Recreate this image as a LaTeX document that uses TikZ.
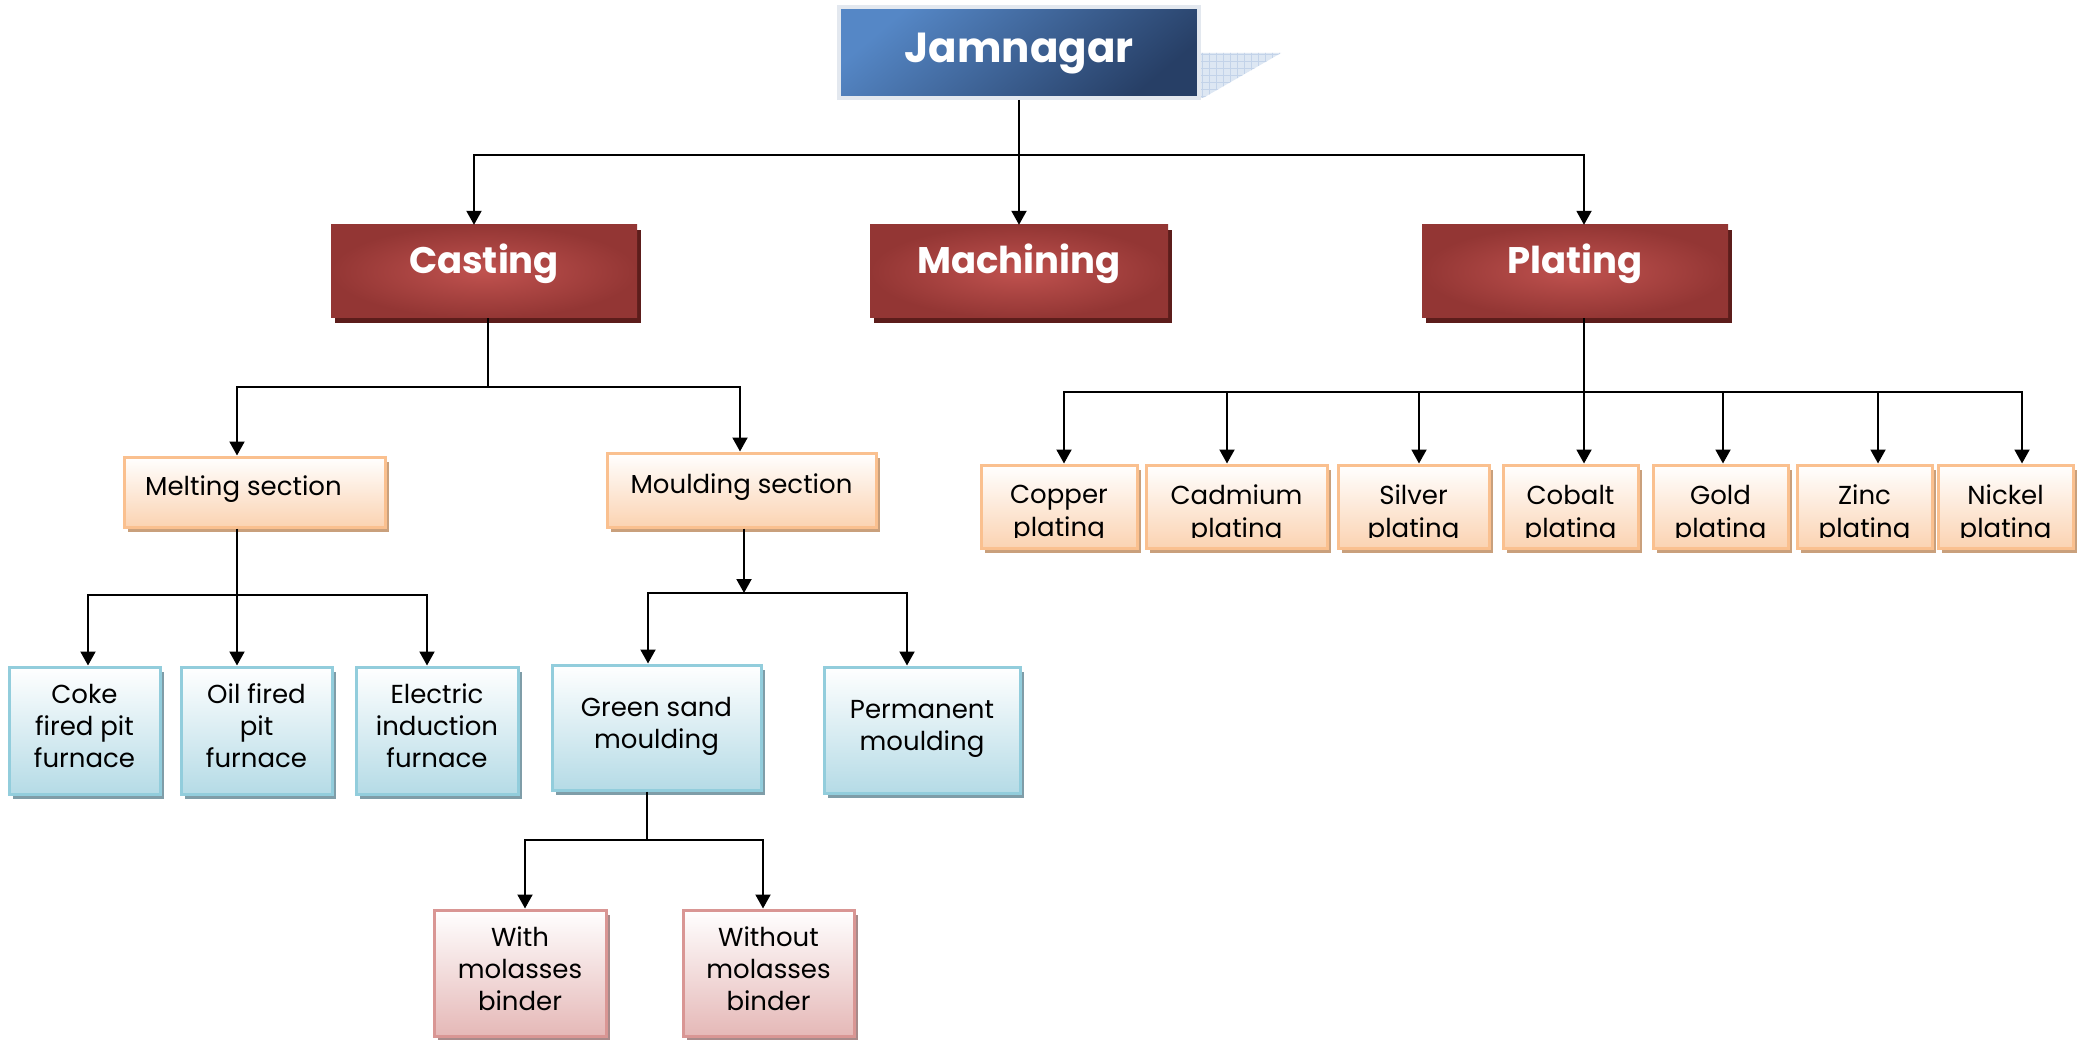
\documentclass[tikz,border=0pt]{standalone}
\usepackage{fontspec}
\setmainfont{Poppins}
\usetikzlibrary{arrows.meta,shadows,calc}

\definecolor{jLight}{HTML}{5587C6}
\definecolor{jDark}{HTML}{273F66}
\definecolor{jFrame}{HTML}{E3E8EF}
\definecolor{jPlate}{HTML}{DDE7F3}
\definecolor{jGrid}{HTML}{C3D3E9}
\definecolor{rInner}{HTML}{C0524F}
\definecolor{rOuter}{HTML}{933634}
\definecolor{rShadow}{HTML}{5C1D1B}
\definecolor{oBorder}{HTML}{FAC08F}
\definecolor{oFill}{HTML}{FBD3B2}
\definecolor{oShadow}{HTML}{C9A07C}
\definecolor{bBorder}{HTML}{92CDDC}
\definecolor{bFill}{HTML}{B5DBE6}
\definecolor{bShadow}{HTML}{7F9DA8}
\definecolor{pBorder}{HTML}{D99694}
\definecolor{pFill}{HTML}{E5B8B7}
\definecolor{pShadow}{HTML}{A88A8A}

\begin{document}
\begin{tikzpicture}[x=1pt, y=-1pt,
  every node/.style={inner sep=0pt},
  wire/.style={draw=black, line width=2pt},
  arr/.style={wire, -{Triangle[width=15pt,length=14pt]}},
  txt/.style={align=center, font=\fontsize{26}{32}\selectfont,
    execute at begin node=\strut, execute at end node=\strut},
  % text sitting a little lower / higher in its box
  txtlow/.style={txt, execute at begin node={\strut\rule{0pt}{30pt}}},
  txthigh/.style={txt, execute at end node={\strut\rule[-15.6pt]{0pt}{0pt}}},
  topbox/.style={rectangle, draw=jFrame, line width=4pt,
    top color=jLight, bottom color=jDark, shading angle=40,
    text=white, font=\fontsize{42}{50}\selectfont\bfseries,
    text height=33pt, text depth=13pt},
  redbox/.style={rectangle, minimum height=93, inner color=rInner, outer color=rOuter,
    text=white, font=\fontsize{37}{44}\selectfont\bfseries,
    text height=30pt, text depth=25pt,
    drop shadow={shadow xshift=4pt, shadow yshift=-5pt, opacity=1, fill=rShadow}},
  peachbox/.style={rectangle, draw=oBorder, line width=3pt, top color=white, bottom color=oFill,
    drop shadow={shadow xshift=4pt, shadow yshift=-5pt, opacity=1, fill=oShadow}},
  cyanbox/.style={rectangle, draw=bBorder, line width=3pt, top color=white, bottom color=bFill,
    drop shadow={shadow xshift=4pt, shadow yshift=-5pt, opacity=1, fill=bShadow}},
  pinkbox/.style={rectangle, draw=pBorder, line width=3pt, top color=white, bottom color=pFill,
    drop shadow={shadow xshift=4pt, shadow yshift=-5pt, opacity=1, fill=pShadow}}
]
\path[fill=white, use as bounding box] (0,0) rectangle (2084,1040);

% gridded plate behind the title box
\begin{scope}
  \clip (1199,53) -- (1281,53) -- (1203,98) -- (1199,98) -- cycle;
  \fill[jPlate] (1195,50) rectangle (1285,100);
  \foreach \gx in {1202,1209,...,1285} \draw[jGrid, line width=0.8pt] (\gx,50) -- (\gx,100);
  \foreach \gy in {54,61,...,100} \draw[jGrid, line width=0.8pt] (1195,\gy) -- (1285,\gy);
\end{scope}

% title and main branches
\node[topbox, minimum width=360, minimum height=91] (jam) at (1019,52.5) {Jamnagar};
\node[redbox, minimum width=306] (cast) at (484,271.5) {Casting};
\node[redbox, minimum width=298] (mach) at (1019,271.5) {Machining};
\node[redbox, minimum width=306] (plat) at (1575,271.5) {Plating};

% casting sections
\node[peachbox, txthigh, minimum width=261, minimum height=70] (melt) at (254.5,492) {Melting section\kern22pt};
\node[peachbox, txthigh, minimum width=269, minimum height=74] (mould) at (741.5,490) {Moulding section};

\node[cyanbox, txtlow, minimum width=151, minimum height=127] (coke) at (84.5,730.5) {Coke\\fired pit\\furnace};
\node[cyanbox, txtlow, minimum width=151, minimum height=127] (oil) at (256.5,730.5) {Oil fired\\pit\\furnace};
\node[cyanbox, txtlow, minimum width=162, minimum height=127] (elec) at (437,730.5) {Electric\\induction\\furnace};
\node[cyanbox, txtlow, minimum width=209, minimum height=125] (green) at (656.5,727.5) {Green sand\\moulding};
\node[cyanbox, txtlow, minimum width=196, minimum height=126] (perm) at (922,730) {Permanent\\moulding};

\node[pinkbox, txtlow, minimum width=172, minimum height=126] (with) at (520,973) {With\\molasses\\binder};
\node[pinkbox, txtlow, minimum width=171, minimum height=126] (without) at (768.5,973) {Without\\molasses\\binder};

% plating kinds (second line cut off by the box)
\coordinate (cut) at (0,537);
\foreach \nm/\cx/\w/\lbl in {cu/1059/156/Copper, cd/1236.5/181/Cadmium, ag/1413.5/151/Silver,
    co/1570.5/135/Cobalt, au/1720.5/135/Gold, zn/1864.5/135/Zinc, ni/2005.5/135/Nickel} {
  \node[peachbox, minimum width=\w, minimum height=83] (\nm) at (\cx,506.5) {};
  \begin{scope}
    \clip (\nm.north west) rectangle (\nm.east |- cut);
    \node[txt, font=\fontsize{26}{33}\selectfont] (\nm-t) at ($(\nm.center)+(0,9.5)$) {\lbl\\plating};
  \end{scope}
}

% connectors
\coordinate (j1) at (1019,155);
\draw[wire] (jam.south) -- (j1);
\draw[arr] (j1) -| ($(cast.north)+(-10,0)$);
\draw[arr] (j1) -- (mach.north);
\draw[arr] (j1) -| ($(plat.north)+(9,0)$);

\coordinate (c1) at (488,387);
\draw[wire] ($(cast.south)+(4,0)$) -- (c1);
\draw[arr] (c1) -| ($(melt.north)+(-17.5,0)$);
\draw[arr] (c1) -| ($(mould.north)+(-1.5,0)$);

\coordinate (m1) at (237,595);
\draw[wire] ($(melt.south)+(-17.5,0)$) -- (m1);
\draw[arr] (m1) -| ($(coke.north)+(3.5,0)$);
\draw[arr] (m1) -- ($(oil.north)+(-19.5,0)$);
\draw[arr] (m1) -| ($(elec.north)+(-10,0)$);

\coordinate (g1) at (744,593);
\draw[arr] ($(mould.south)+(2.5,0)$) -- (g1);
\draw[arr] (g1) -| ($(green.north)+(-8.5,0)$);
\draw[arr] (g1) -| ($(perm.north)+(-15,0)$);

\coordinate (s1) at (647,840);
\draw[wire] ($(green.south)+(-9.5,0)$) -- (s1);
\draw[arr] (s1) -| ($(with.north)+(5,0)$);
\draw[arr] (s1) -| ($(without.north)+(-5.5,0)$);

\coordinate (p1) at (1584,392);
\draw[wire] ($(plat.south)+(9,0)$) -- (p1);
\draw[arr] (p1) -| ($(cu.north)+(5,0)$);
\draw[arr] (p1) -| ($(cd.north)+(-9.5,0)$);
\draw[arr] (p1) -| ($(ag.north)+(5.5,0)$);
\draw[arr] (p1) -- ($(co.north)+(13.5,0)$);
\draw[arr] (p1) -| ($(au.north)+(2.5,0)$);
\draw[arr] (p1) -| ($(zn.north)+(13.5,0)$);
\draw[arr] (p1) -| ($(ni.north)+(16.5,0)$);
\end{tikzpicture}
\end{document}
